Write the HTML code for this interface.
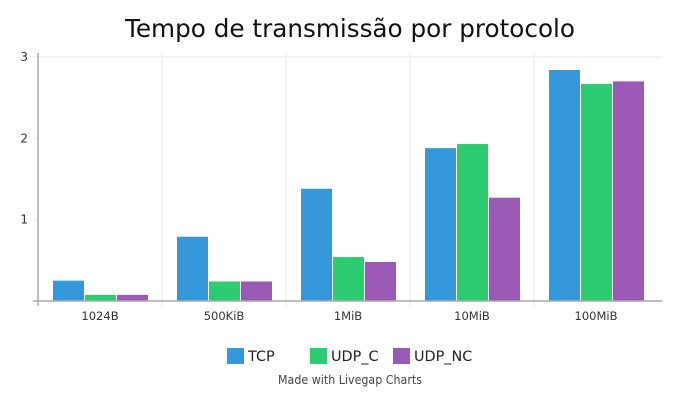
<!DOCTYPE html>
<html>
<head>
<meta charset="utf-8">
<style>
html,body{margin:0;padding:0;background:#fff;}
svg{display:block;font-family:"DejaVu Sans","Liberation Sans",sans-serif;}
</style>
</head>
<body>
<svg id="chart" width="700" height="400" viewBox="0 0 700 400" xmlns="http://www.w3.org/2000/svg">
<rect x="0" y="0" width="700" height="400" fill="#fff"/>
<text x="350" y="37" text-anchor="middle" font-size="24.5" fill="#111" textLength="450" lengthAdjust="spacingAndGlyphs">Tempo de transmissão por protocolo</text>
<g id="grid"></g>
<g id="bars"></g>
<g id="axes"></g>
<g id="legend"></g>
<text x="350" y="384" text-anchor="middle" font-size="12" fill="#444" textLength="144" lengthAdjust="spacingAndGlyphs">Made with Livegap Charts</text>
</svg>
<script>
const categories = ['1024B', '500KiB', '1MiB', '10MiB', '100MiB'];
const seriesNames = ['TCP', 'UDP_C', 'UDP_NC'];
const tcpValues = [0.25, 0.79, 1.38, 1.88, 2.84];
const udpCValues = [0.075, 0.24, 0.54, 1.93, 2.67];
const udpNcValues = [0.075, 0.24, 0.48, 1.27, 2.70];
const yTicks = [0, 1, 2, 3];

const NS = 'http://www.w3.org/2000/svg';
const seriesValues = [tcpValues, udpCValues, udpNcValues];
const colors = ['#3498db', '#2ecc71', '#9b59b6'];
const plot = {left: 38, right: 658, top: 57, bottom: 301};
const yMax = yTicks[yTicks.length - 1];
function yScale(v) { return plot.bottom - (v / yMax) * (plot.bottom - plot.top); }
function bandWidth() { return (plot.right - plot.left) / categories.length; }
function xBand(i) { return plot.left + i * bandWidth(); }
function xBar(i, s) {
  const step = bandWidth() * 0.258;
  const groupWidth = step * seriesValues.length - 1;
  return xBand(i) + (bandWidth() - groupWidth) / 2 + s * step + 0.5;
}
function make(tag, parent, attrs, text) {
  const el = document.createElementNS(NS, tag);
  for (const k in attrs) el.setAttribute(k, attrs[k]);
  if (text !== undefined) el.textContent = text;
  parent.appendChild(el);
  return el;
}
const grid = document.getElementById('grid');
const bars = document.getElementById('bars');
const axes = document.getElementById('axes');
const legend = document.getElementById('legend');

yTicks.forEach(function (t) {
  if (t === 0) return;
  const y = yScale(t);
  const xEnd = t === yMax ? plot.right + 4.5 : plot.left;
  const line = make('line', grid, {x1: plot.left - 5, x2: xEnd, y1: y, y2: y, stroke: '#eee', 'stroke-width': 1.5});
  
  
});
categories.forEach(function (c, i) {
  if (i === 0) return;
  const x = xBand(i);
  const line = make('line', grid, {x1: x, x2: x, y1: plot.top - 4, y2: plot.bottom + 5, stroke: '#eee', 'stroke-width': 1.5});
  
  
});

seriesValues.forEach(function (vals, s) {
  vals.forEach(function (v, i) {
    const y = yScale(v);
    const r = make('rect', bars, {x: xBar(i, s), y: y, width: 31, height: plot.bottom - y, fill: colors[s]});
    
    
  });
});

const yAxis = make('line', axes, {x1: plot.left, x2: plot.left, y1: plot.top - 4, y2: plot.bottom + 5, stroke: '#aaa', 'stroke-width': 1.5});


const xAxis = make('line', axes, {x1: plot.left - 5, x2: plot.right + 4.5, y1: plot.bottom, y2: plot.bottom, stroke: '#aaa', 'stroke-width': 1.5});



yTicks.forEach(function (t) {
  if (t === 0) return;
  const lab = make('text', axes, {x: 28, y: yScale(t) + 4, 'text-anchor': 'end', 'font-size': 12, fill: '#333'}, String(t));
  
  
});
categories.forEach(function (c, i) {
  const lab = make('text', axes, {x: xBand(i) + bandWidth() / 2, y: 320, 'text-anchor': 'middle', 'font-size': 11.5, fill: '#333'}, c);
  
  
});

const legendStart = 227;
const legendStep = 83;
seriesNames.forEach(function (n, s) {
  const x = legendStart + s * legendStep;
  const sw = make('rect', legend, {x: x, y: 348, width: 17, height: 16, fill: colors[s]});
  
  
  const lab = make('text', legend, {x: x + 21, y: 361, 'font-size': 14.4, fill: '#222'}, n);
  
  
});
</script>
</body>
</html>
